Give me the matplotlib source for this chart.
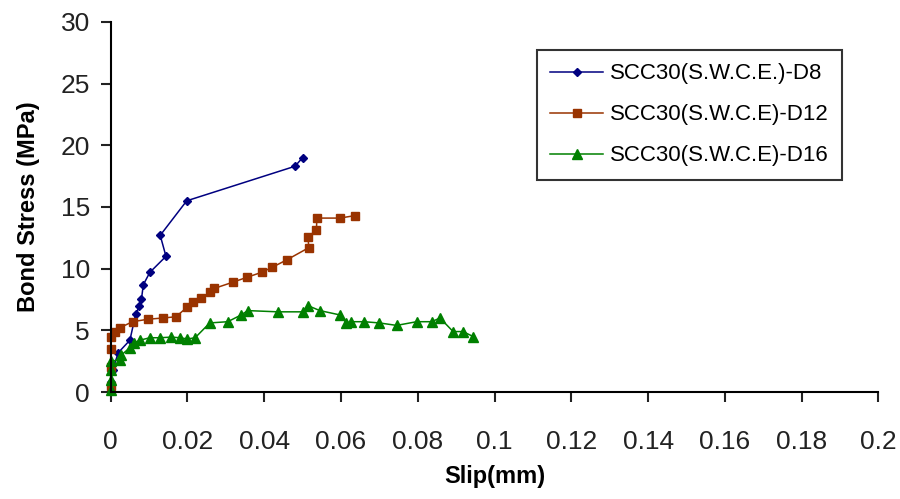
import matplotlib
matplotlib.use("Agg")
import matplotlib.pyplot as plt

plt.rcParams['font.family'] = ['Liberation Sans', 'DejaVu Sans']

d8_x = [0.0, 0.0, 0.0005, 0.002, 0.005, 0.0065, 0.0075, 0.008, 0.0085, 0.0102, 0.0144, 0.0129, 0.0198, 0.048, 0.050]
d8_y = [0.3, 0.8, 1.8, 3.2, 4.2, 6.3, 7.0, 7.5, 8.7, 9.7, 11.0, 12.7, 15.5, 18.3, 19.0]

d12_x = [0.0, 0.0, 0.0, 0.0, 0.001, 0.0023, 0.0057, 0.0097, 0.0136, 0.017, 0.020, 0.0214, 0.0236,
         0.0258, 0.027, 0.0318, 0.0355, 0.0393, 0.042, 0.0458, 0.0516, 0.0514, 0.0536, 0.0537,
         0.0597, 0.0636]
d12_y = [0.5, 2.0, 3.5, 4.5, 4.9, 5.2, 5.7, 5.9, 6.0, 6.1, 6.9, 7.3, 7.6,
         8.1, 8.4, 8.9, 9.3, 9.7, 10.1, 10.7, 11.7, 12.6, 13.1, 14.1,
         14.1, 14.3]

d16_x = [0.0, 0.0, 0.0, 0.0, 0.0023, 0.0028, 0.005, 0.0062, 0.0076, 0.0102, 0.0128, 0.0158, 0.018,
         0.020, 0.022, 0.0258, 0.0305, 0.034, 0.0357, 0.0436, 0.050, 0.0514, 0.0545, 0.0597,
         0.0614, 0.0627, 0.066, 0.070, 0.0745, 0.0797, 0.0836, 0.0858, 0.0892, 0.0918, 0.0944]
d16_y = [0.2, 1.0, 1.8, 2.5, 2.6, 3.0, 3.6, 4.0, 4.2, 4.4, 4.4, 4.45, 4.4,
         4.3, 4.4, 5.6, 5.7, 6.25, 6.6, 6.5, 6.5, 7.0, 6.6, 6.25,
         5.6, 5.7, 5.7, 5.6, 5.4, 5.7, 5.7, 6.0, 4.9, 4.9, 4.5]

x_ticks = [0, 0.02, 0.04, 0.06, 0.08, 0.1, 0.12, 0.14, 0.16, 0.18, 0.2]
x_labels = ['0', '0.02', '0.04', '0.06', '0.08', '0.1', '0.12', '0.14', '0.16', '0.18', '0.2']
y_ticks = [0, 5, 10, 15, 20, 25, 30]

fig = plt.figure(figsize=(9, 4.99), dpi=100)
ax = fig.add_axes([0.123, 0.2144, 0.853, 0.7416])

ax.plot(d8_x, d8_y, color='#000080', marker='D', markersize=4.5, lw=1.1,
        label='SCC30(S.W.C.E.)-D8', clip_on=False)
ax.plot(d12_x, d12_y, color='#993300', marker='s', markersize=5.5, lw=1.1,
        label='SCC30(S.W.C.E)-D12', clip_on=False)
ax.plot(d16_x, d16_y, color='#008000', marker='^', markersize=6.5, lw=1.1,
        label='SCC30(S.W.C.E)-D16', clip_on=False)

ax.set_xlim(0, 0.2)
ax.set_ylim(0, 30)
ax.set_xticks(x_ticks)
ax.set_xticklabels(x_labels)
ax.set_yticks(y_ticks)
ax.spines['top'].set_visible(False)
ax.spines['right'].set_visible(False)
for s in ('left', 'bottom'):
    ax.spines[s].set_linewidth(1.5)
ax.tick_params(direction='out', length=7, width=1.5, labelsize=19, colors='#222222')
ax.tick_params(axis='y', pad=8)
ax.tick_params(axis='x', pad=20)

ax.set_xlabel('Slip(mm)', fontsize=17, fontweight='bold', labelpad=8)
ax.set_ylabel('Bond Stress (MPa)', fontsize=17, fontweight='bold', labelpad=15)

leg = ax.legend(loc='upper left', bbox_to_anchor=(0.555, 0.924), fontsize=16,
                frameon=True, fancybox=False, edgecolor='black', handlelength=2.4,
                borderpad=0.6, labelspacing=0.9, handletextpad=0.3, borderaxespad=0)
leg.get_frame().set_linewidth(1.5)

fig.savefig('out.png', dpi=100)
